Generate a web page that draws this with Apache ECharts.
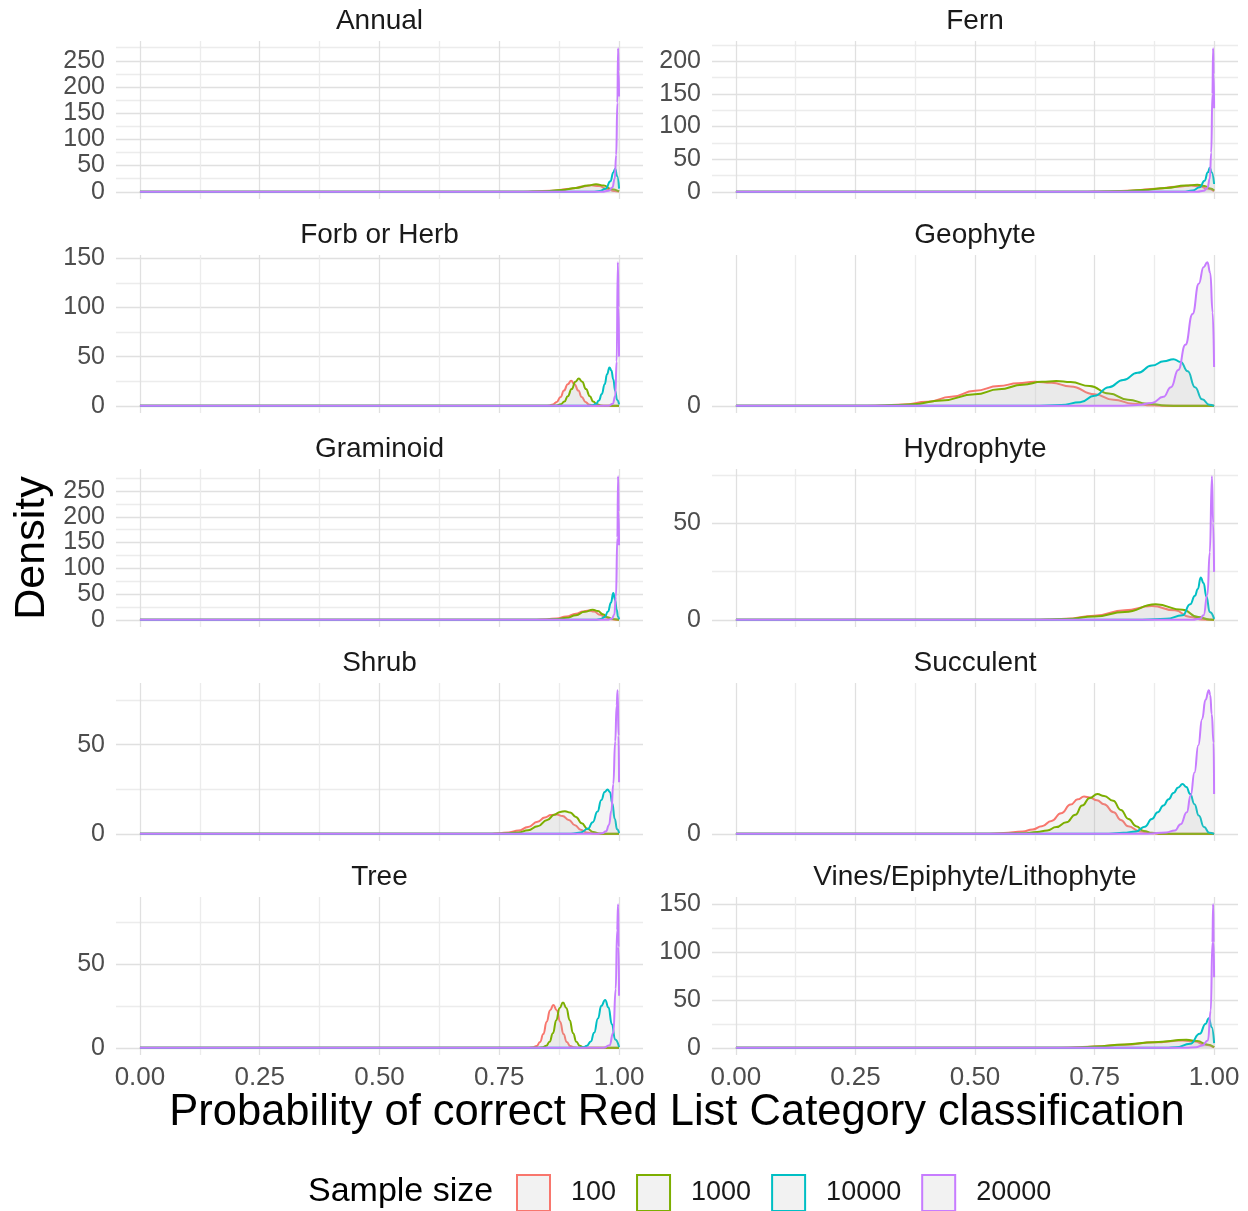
<!DOCTYPE html>
<html>
<head>
<meta charset="utf-8">
<title>Red List category classification</title>
<script src="https://cdn.jsdelivr.net/npm/echarts@6/dist/echarts.min.js"></script>
<style>
  html, body { margin: 0; padding: 0; background: #fff; }
  #chart { width: 1248px; height: 1211px; }
</style>
</head>
<body>
<div id="chart"></div>
<script>
// groups and colours (ggplot default hue palette)
const sampleSizes = ['100', '1000', '10000', '20000'];
const sizeColors = ['#F8766D', '#7CAE00', '#00BFC4', '#C77CFF'];
const panelNames = ['Annual', 'Fern', 'Forb or Herb', 'Geophyte', 'Graminoid',
    'Hydrophyte', 'Shrub', 'Succulent', 'Tree', 'Vines/Epiphyte/Lithophyte'];
const xTickLabels = [0, 0.25, 0.5, 0.75, 1];
const xGridValues = [0, 0.125, 0.25, 0.375, 0.5, 0.625, 0.75, 0.875, 1];
const yBreakStep = 50;

// density curves: [probability, density]
const annual100 = [[0, 0], [0.78, 0], [0.82, 0.6], [0.86, 2.2], [0.9, 6], [0.925, 10], [0.942, 12.5], [0.958, 11], [0.975, 5.5], [0.99, 1.5], [1, 0.5]];
const annual1000 = [[0, 0], [0.8, 0], [0.84, 0.8], [0.88, 3.5], [0.91, 7.5], [0.935, 12], [0.952, 14.5], [0.968, 12], [0.983, 5.5], [1, 0.8]];
const annual10000 = [[0, 0], [0.945, 0], [0.96, 1.5], [0.972, 6], [0.982, 20], [0.988, 37], [0.992, 44], [0.996, 30], [1, 6]];
const annual20000 = [[0, 0], [0.965, 0], [0.978, 2], [0.986, 8], [0.991, 25], [0.994, 70], [0.9965, 170], [0.998, 274], [0.999, 230], [1, 182]];

const fern100 = [[0, 0], [0.72, 0], [0.78, 0.6], [0.83, 2], [0.88, 4.8], [0.92, 7.8], [0.95, 9.5], [0.97, 8.5], [0.985, 5], [1, 1]];
const fern1000 = [[0, 0], [0.74, 0], [0.8, 0.8], [0.85, 2.8], [0.9, 6], [0.94, 9.5], [0.965, 11], [0.98, 9], [0.992, 5], [1, 2]];
const fern10000 = [[0, 0], [0.935, 0], [0.955, 2], [0.97, 7], [0.98, 17], [0.987, 30], [0.991, 37], [0.995, 30], [1, 12]];
const fern20000 = [[0, 0], [0.965, 0], [0.978, 1.5], [0.986, 6], [0.991, 20], [0.994, 60], [0.9965, 150], [0.998, 220], [0.999, 180], [1, 128]];

const forb100 = [[0, 0], [0.845, 0], [0.855, 0.4], [0.862, 1.4], [0.87, 4], [0.878, 9], [0.885, 15.5], [0.893, 22], [0.9, 25.4], [0.907, 22], [0.915, 15.5], [0.922, 9], [0.93, 4], [0.937, 1.4], [0.945, 0.4], [0.955, 0], [1, 0]];
const forb1000 = [[0, 0], [0.86, 0], [0.87, 0.4], [0.878, 1.5], [0.886, 4.3], [0.893, 9.8], [0.901, 17], [0.909, 24.5], [0.916, 27.8], [0.923, 24.5], [0.931, 17], [0.939, 9.8], [0.946, 4.3], [0.954, 1.5], [0.962, 0.4], [0.972, 0], [1, 0]];
const forb10000 = [[0, 0], [0.935, 0], [0.945, 0.5], [0.952, 2], [0.958, 5.5], [0.964, 12], [0.97, 22], [0.975, 32], [0.98, 39], [0.984, 36], [0.988, 27], [0.992, 15], [0.996, 6], [1, 1.5]];
const forb20000 = [[0, 0], [0.978, 0], [0.987, 2], [0.992, 10], [0.995, 45], [0.9975, 146], [0.999, 100], [1, 50]];

const geo100 = [[0, 0], [0.25, 0], [0.3, 0.05], [0.35, 0.2], [0.4, 0.55], [0.45, 1.25], [0.5, 2.1], [0.55, 2.75], [0.59, 3.15], [0.625, 3.35], [0.66, 3.2], [0.7, 2.7], [0.75, 1.6], [0.79, 0.85], [0.83, 0.3], [0.87, 0.07], [0.9, 0], [1, 0]];
const geo1000 = [[0, 0], [0.28, 0], [0.33, 0.1], [0.37, 0.22], [0.43, 0.75], [0.5, 1.6], [0.55, 2.3], [0.6, 2.95], [0.64, 3.35], [0.67, 3.45], [0.7, 3.3], [0.74, 2.75], [0.78, 1.7], [0.82, 0.85], [0.86, 0.3], [0.9, 0.05], [0.93, 0], [1, 0]];
const geo10000 = [[0, 0], [0.62, 0], [0.68, 0.1], [0.72, 0.5], [0.75, 1.4], [0.78, 2.6], [0.81, 3.6], [0.84, 4.6], [0.87, 5.6], [0.895, 6.2], [0.915, 6.5], [0.93, 6.1], [0.945, 4.8], [0.96, 2.6], [0.975, 0.9], [0.99, 0.15], [1, 0]];
const geo20000 = [[0, 0], [0.8, 0], [0.84, 0.1], [0.87, 0.4], [0.894, 1.25], [0.91, 2.6], [0.925, 5], [0.94, 8.5], [0.955, 12.8], [0.968, 17], [0.978, 19.3], [0.986, 20], [0.992, 18.5], [0.997, 13], [1, 5.4]];

const gram100 = [[0, 0], [0.82, 0], [0.85, 1], [0.87, 2.8], [0.89, 6.5], [0.91, 12], [0.925, 16], [0.937, 18], [0.948, 16], [0.96, 10], [0.972, 4.5], [0.985, 1.2], [0.995, 0.2], [1, 0]];
const gram1000 = [[0, 0], [0.84, 0], [0.87, 1.2], [0.89, 3.8], [0.91, 9], [0.928, 15.5], [0.945, 19.5], [0.956, 17], [0.966, 11], [0.976, 5], [0.986, 1.5], [1, 0]];
const gram10000 = [[0, 0], [0.95, 0], [0.962, 1.5], [0.97, 5.5], [0.977, 16], [0.983, 33], [0.988, 52], [0.992, 38], [0.995, 20], [0.998, 6], [1, 1]];
const gram20000 = [[0, 0], [0.975, 0], [0.985, 2], [0.99, 10], [0.9935, 45], [0.9965, 160], [0.998, 279], [0.999, 210], [1, 145]];

const hyd100 = [[0, 0], [0.6, 0], [0.65, 0.2], [0.69, 0.5], [0.75, 2.1], [0.813, 4.9], [0.87, 7.1], [0.918, 4.9], [0.95, 1.4], [0.975, 0.2], [1, 0]];
const hyd1000 = [[0, 0], [0.62, 0], [0.69, 0.4], [0.75, 1.7], [0.813, 4], [0.878, 8], [0.934, 5.2], [0.967, 1.4], [0.99, 0.2], [1, 0]];
const hyd10000 = [[0, 0], [0.85, 0], [0.9, 0.5], [0.934, 2.3], [0.95, 8], [0.96, 12.5], [0.966, 16], [0.972, 21.9], [0.978, 19], [0.984, 12], [0.991, 4], [1, 0.5]];
const hyd20000 = [[0, 0], [0.955, 0], [0.97, 0.5], [0.978, 2.3], [0.986, 13], [0.991, 35], [0.9955, 74.3], [0.998, 50], [1, 24.8]];

const shrub100 = [[0, 0], [0.73, 0], [0.75, 0.3], [0.77, 0.8], [0.79, 1.8], [0.81, 3.8], [0.83, 6.8], [0.845, 9.2], [0.858, 10.5], [0.87, 10.8], [0.882, 10], [0.895, 7.8], [0.908, 4.8], [0.92, 2.3], [0.932, 0.8], [0.945, 0.2], [0.96, 0], [1, 0]];
const shrub1000 = [[0, 0], [0.75, 0], [0.77, 0.3], [0.79, 0.8], [0.81, 2], [0.83, 4.2], [0.85, 7.8], [0.865, 10.7], [0.877, 12.3], [0.887, 12.7], [0.898, 12], [0.91, 9.5], [0.922, 6], [0.934, 2.8], [0.946, 1], [0.958, 0.2], [0.97, 0], [1, 0]];
const shrub10000 = [[0, 0], [0.895, 0], [0.905, 0.2], [0.92, 0.8], [0.935, 2.8], [0.945, 6.5], [0.955, 12.5], [0.963, 19], [0.97, 23.5], [0.976, 24.8], [0.981, 23.5], [0.986, 17], [0.991, 8.5], [0.996, 2.5], [1, 0.5]];
const shrub20000 = [[0, 0], [0.955, 0], [0.965, 0.3], [0.973, 1.5], [0.979, 5], [0.984, 13], [0.988, 28], [0.992, 52], [0.995, 72], [0.997, 80.6], [0.999, 55], [1, 28.9]];

const succ100 = [[0, 0], [0.52, 0], [0.56, 0.15], [0.6, 0.5], [0.62, 0.9], [0.64, 1.6], [0.66, 2.7], [0.68, 4.3], [0.7, 6.1], [0.715, 7.2], [0.728, 7.8], [0.74, 7.6], [0.755, 7.0], [0.77, 6.2], [0.79, 4.5], [0.805, 2.9], [0.82, 1.6], [0.845, 0.5], [0.87, 0.1], [0.89, 0], [1, 0]];
const succ1000 = [[0, 0], [0.56, 0], [0.6, 0.1], [0.63, 0.4], [0.651, 0.7], [0.67, 1.4], [0.691, 2.4], [0.71, 4.0], [0.724, 5.9], [0.74, 7.5], [0.756, 8.3], [0.77, 7.9], [0.789, 6.9], [0.805, 5.0], [0.821, 3.1], [0.837, 1.6], [0.853, 0.6], [0.87, 0.2], [0.89, 0], [1, 0]];
const succ10000 = [[0, 0], [0.78, 0], [0.81, 0.2], [0.837, 0.5], [0.855, 1.5], [0.87, 3.1], [0.882, 4.5], [0.894, 5.9], [0.905, 7.2], [0.915, 8.5], [0.925, 9.7], [0.934, 10.4], [0.942, 9.8], [0.95, 8.3], [0.959, 6.2], [0.968, 3.8], [0.979, 1.4], [0.99, 0.2], [1, 0]];
const succ20000 = [[0, 0], [0.86, 0], [0.9, 0.3], [0.918, 0.7], [0.93, 2], [0.943, 4.5], [0.951, 8], [0.959, 12.8], [0.967, 18.5], [0.975, 24], [0.982, 28], [0.989, 30], [0.992, 29], [0.995, 25], [0.999, 19], [1, 8.3]];

const tree100 = [[0, 0], [0.81, 0], [0.821, 0.3], [0.828, 1.1], [0.835, 3.4], [0.842, 8.2], [0.849, 15.6], [0.856, 22.4], [0.863, 25.5], [0.87, 22.4], [0.877, 15.6], [0.884, 8.2], [0.891, 3.4], [0.898, 1.1], [0.905, 0.3], [0.915, 0], [1, 0]];
const tree1000 = [[0, 0], [0.83, 0], [0.841, 0.3], [0.848, 1.2], [0.855, 3.6], [0.862, 8.7], [0.869, 16.5], [0.876, 23.8], [0.883, 27], [0.89, 23.8], [0.897, 16.5], [0.904, 8.7], [0.911, 3.6], [0.918, 1.2], [0.925, 0.3], [0.935, 0], [1, 0]];
const tree10000 = [[0, 0], [0.915, 0], [0.926, 0.3], [0.933, 1.3], [0.941, 3.8], [0.948, 9], [0.956, 17.5], [0.963, 25], [0.971, 28.5], [0.978, 24], [0.985, 14], [0.992, 5], [1, 0.5]];
const tree20000 = [[0, 0], [0.968, 0], [0.98, 1.5], [0.988, 9], [0.993, 35], [0.996, 70], [0.998, 85.6], [0.999, 60], [1, 31]];

const vines100 = [[0, 0], [0.65, 0], [0.7, 0.3], [0.75, 1.3], [0.813, 3.3], [0.875, 5.8], [0.934, 7.6], [0.96, 6.5], [0.98, 3.5], [1, 0.5]];
const vines1000 = [[0, 0], [0.67, 0], [0.72, 0.4], [0.75, 1.4], [0.813, 3.5], [0.875, 5.9], [0.942, 8.3], [0.965, 7], [0.985, 3.5], [1, 0.7]];
const vines10000 = [[0, 0], [0.9, 0], [0.92, 0.5], [0.95, 4.2], [0.97, 14.6], [0.982, 25], [0.989, 31], [0.995, 21.5], [1, 4.9]];
const vines20000 = [[0, 0], [0.94, 0], [0.962, 0.5], [0.975, 2.4], [0.987, 7.6], [0.993, 38.9], [0.9965, 110], [0.998, 150], [0.999, 110], [1, 73.6]];

const panelCurves = [
    [annual100, annual1000, annual10000, annual20000],
    [fern100, fern1000, fern10000, fern20000],
    [forb100, forb1000, forb10000, forb20000],
    [geo100, geo1000, geo10000, geo20000],
    [gram100, gram1000, gram10000, gram20000],
    [hyd100, hyd1000, hyd10000, hyd20000],
    [shrub100, shrub1000, shrub10000, shrub20000],
    [succ100, succ1000, succ10000, succ20000],
    [tree100, tree1000, tree10000, tree20000],
    [vines100, vines1000, vines10000, vines20000]
];

// layout of the facet grid
const FONT = 'Liberation Sans, Arial, Helvetica, sans-serif';
const gridLeft = [116, 712];
const gridWidth = [527, 526];
const gridTop0 = 41;
const rowStep = 214;
const gridHeight = 158;
const majorGrid = '#e0e0e0';
const minorGrid = '#ececec';

// ggplot-like breaks: majors every 50, minors halfway, inside the expanded range
function yBreaks(top) {
    const majors = [];
    for (let v = 0; v <= top; v += yBreakStep) majors.push(v);
    const all = majors.slice();
    if (majors.length > 1) {
        for (let v = yBreakStep / 2; v <= top; v += yBreakStep) all.push(v);
    }
    all.sort((a, b) => a - b);
    return {majors, all};
}

const grids = [], xAxes = [], yAxes = [], series = [], graphics = [];

panelCurves.forEach((curves, i) => {
    const col = i % 2;
    const row = Math.floor(i / 2);
    const top = gridTop0 + row * rowStep;
    grids.push({
        left: gridLeft[col], top: top, width: gridWidth[col], height: gridHeight,
        containLabel: false, outerBoundsMode: 'none'
    });

    xAxes.push({
        type: 'value', gridIndex: i, min: -0.05, max: 1.05,
        axisLine: {show: false},
        axisTick: {show: false, customValues: xGridValues},
        axisLabel: {
            show: row === 4, customValues: xTickLabels, margin: 10, hideOverlap: false,
            formatter: v => v.toFixed(2),
            fontSize: 26, fontFamily: FONT, color: '#4d4d4d'
        },
        splitLine: {show: true, lineStyle: {color: [majorGrid, minorGrid], width: 1.3}}
    });

    let peak = 0;
    curves.forEach(c => c.forEach(p => { if (p[1] > peak) peak = p[1]; }));
    const yTop = peak * 1.05;
    const br = yBreaks(yTop);
    yAxes.push({
        type: 'value', gridIndex: i, min: -peak * 0.05, max: yTop,
        axisLine: {show: false},
        axisTick: {show: false, customValues: br.all},
        axisLabel: {
            customValues: br.majors, margin: 11, hideOverlap: false,
            showMinLabel: true, showMaxLabel: true,
            fontSize: 25, fontFamily: FONT, color: '#4d4d4d'
        },
        splitLine: {show: true, lineStyle: {color: br.majors.length > 1 ? [majorGrid, minorGrid] : [majorGrid], width: 1.3}}
    });

    curves.forEach((data, k) => {
        series.push({
            name: sampleSizes[k], type: 'line', xAxisIndex: i, yAxisIndex: i,
            data: data, showSymbol: false, symbol: 'none',
            smooth: 0.5, smoothMonotone: 'x', silent: true,
            lineStyle: {color: sizeColors[k], width: 2},
            itemStyle: {color: sizeColors[k]},
            areaStyle: {color: 'rgba(185,185,185,0.22)', origin: 0},
            z: 2 + k
        });
    });

    graphics.push({
        type: 'text', x: gridLeft[col] + gridWidth[col] / 2, y: top - 20,
        style: {
            text: panelNames[i], fontSize: 28, fontFamily: FONT, fill: '#1a1a1a',
            textAlign: 'center', textVerticalAlign: 'middle', align: 'center', verticalAlign: 'middle'
        }
    });
});

// axis titles and legend title
graphics.push({
    type: 'text', x: 32, y: 548, rotation: Math.PI / 2,
    style: {
        text: 'Density', fontSize: 43, fontFamily: FONT, fill: '#000',
        textAlign: 'center', textVerticalAlign: 'middle', align: 'center', verticalAlign: 'middle'
    }
});
graphics.push({
    type: 'text', x: 677, y: 1113,
    style: {
        text: 'Probability of correct Red List Category classification', fontSize: 43.5, fontFamily: FONT, fill: '#000',
        textAlign: 'center', textVerticalAlign: 'middle', align: 'center', verticalAlign: 'middle'
    }
});
graphics.push({
    type: 'text', x: 308, y: 1192,
    style: {
        text: 'Sample size', fontSize: 34, fontFamily: FONT, fill: '#000',
        textAlign: 'left', textVerticalAlign: 'middle', align: 'left', verticalAlign: 'middle'
    }
});

const chart = echarts.init(document.getElementById('chart'), null, {renderer: 'canvas'});
chart.setOption({
    animation: false,
    backgroundColor: '#fff',
    grid: grids,
    xAxis: xAxes,
    yAxis: yAxes,
    legend: {
        left: 516, top: 1174, padding: 0, orient: 'horizontal', selectedMode: false,
        icon: 'rect', itemWidth: 33, itemHeight: 36, itemGap: 20,
        textStyle: {fontSize: 27, fontFamily: FONT, color: '#1a1a1a', padding: [0, 0, 0, 16]},
        data: sampleSizes.map((s, k) => ({
            name: s, icon: 'rect',
            itemStyle: {color: '#f2f2f2', borderColor: sizeColors[k], borderWidth: 2}
        }))
    },
    graphic: graphics,
    series: series
});
</script>
</body>
</html>
